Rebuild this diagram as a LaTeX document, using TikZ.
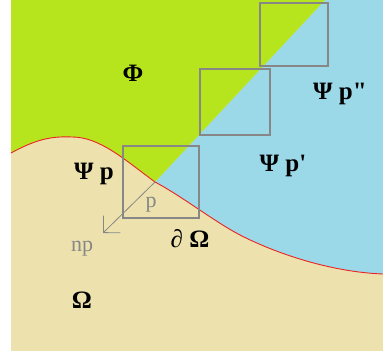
\documentclass[tikz,border=0pt]{standalone}
\usepackage{fontspec}
\newfontfamily\lblfont{Liberation Serif}
\usetikzlibrary{arrows.meta}
\definecolor{phigreen}{RGB}{182,229,30}
\definecolor{psiblue}{RGB}{155,216,232}
\definecolor{omegatan}{RGB}{237,226,174}
\definecolor{boxgray}{RGB}{135,135,135}
\definecolor{curvered}{RGB}{235,35,35}

\begin{document}
\begin{tikzpicture}[x=1pt,y=-1pt,
  lbl/.style={font=\lblfont\bfseries\fontsize{25}{28}\selectfont, inner sep=0pt, anchor=base},
  glbl/.style={font=\lblfont\fontsize{22}{25}\selectfont, text=boxgray, inner sep=0pt, anchor=base},
  cell/.style={draw=boxgray, line width=1.2pt},
  arr/.style={-{Straight Barb[length=12pt,width=24pt]}, draw=boxgray, line width=0.8pt}
]
\useasboundingbox (0,0) rectangle (383,355);
\coordinate (p) at (155,182);
\coordinate (top) at (325,0);
\coordinate (nend) at (103,233);
% regions
\fill[omegatan] (11,0) rectangle (383,351);
\fill[psiblue] (p) .. controls (180,195) and (215,222) .. (240,235)
  .. controls (275,253) and (330,272) .. (383,274) -- (383,0) -- (top) -- cycle;
\fill[phigreen] (11,0) -- (11,153) .. controls (35,140) and (50,136) .. (72,137)
  .. controls (100,137) and (125,160) .. (p) -- (top) -- cycle;
% boundary
\draw[curvered, line width=0.9pt] (11,153) .. controls (35,140) and (50,136) .. (72,137)
  .. controls (100,137) and (125,160) .. (p)
  .. controls (180,195) and (215,222) .. (240,235)
  .. controls (275,253) and (330,272) .. (383,274);
% boxes
\draw[cell] (123,146) rectangle (199,218);
\draw[cell] (200,69) rectangle (270,135);
\draw[cell] (260,3) rectangle (328,66);
% normal
\draw[arr] (p) -- (nend);
% labels
\node[lbl] (phi) at (133,82) {Φ};
\node[lbl] (psi2) at (340,100) {Ψ p"};
\node[lbl] (psi1) at (283,172) {Ψ p'};
\node[lbl] (psi0) at (94,180) {Ψ p};
\node[lbl] (bd) at (190,248) {∂ Ω};
\node[lbl] (om) at (82,309) {Ω};
\node[glbl] (plbl) at (151,208) {p};
\node[glbl] (nlbl) at (82,252) {np};
\end{tikzpicture}
\end{document}
